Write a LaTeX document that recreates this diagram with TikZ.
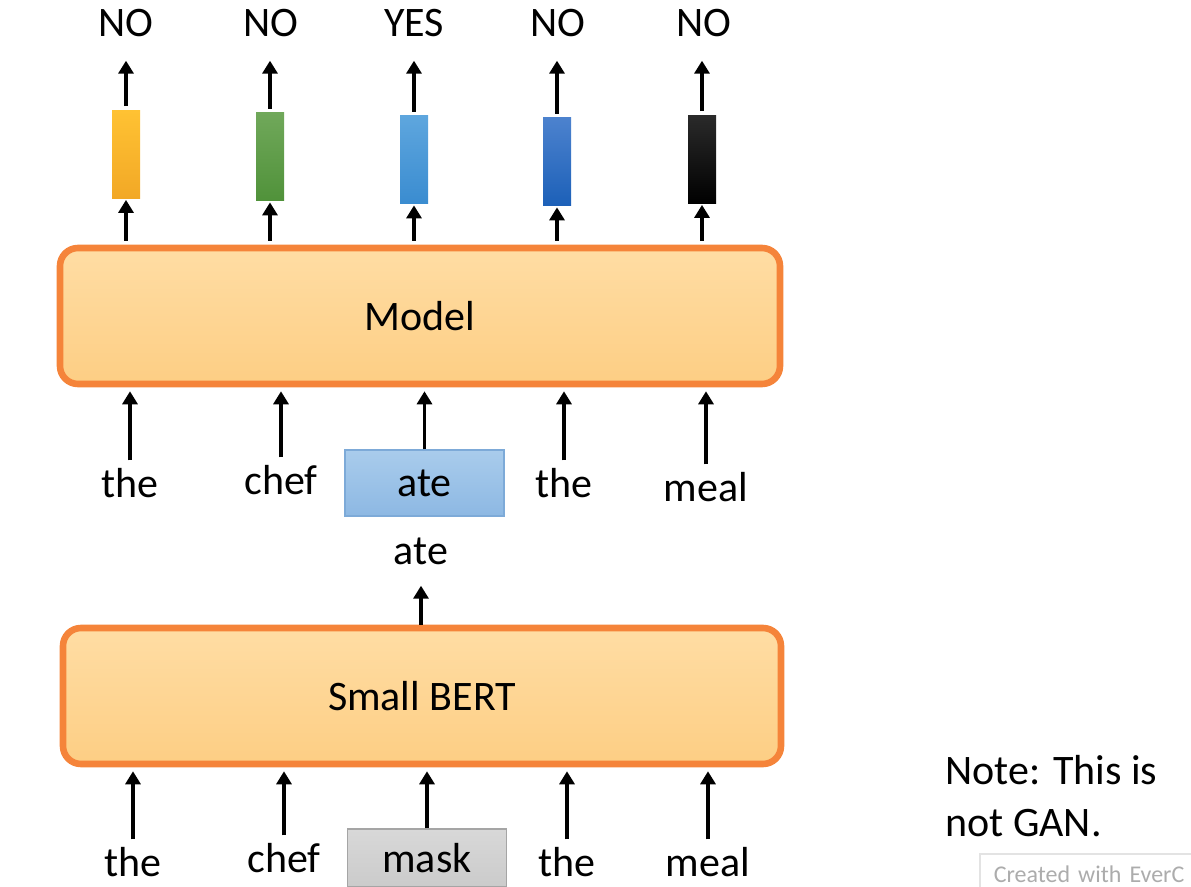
\documentclass[tikz,border=0pt]{standalone}
\usepackage{fontspec}
\setmainfont{Carlito}
\usetikzlibrary{arrows.meta}

\definecolor{boxline}{HTML}{F5843A}
\definecolor{boxtop}{HTML}{FFDDA4}
\definecolor{boxbottom}{HTML}{FDCE84}
\definecolor{atetop}{HTML}{A9CCEC}
\definecolor{atebottom}{HTML}{8DB8E3}
\definecolor{ateline}{HTML}{7DAAD8}
\definecolor{masktop}{HTML}{D8D8D8}
\definecolor{maskbottom}{HTML}{CBCBCB}
\definecolor{maskline}{HTML}{A5A5A5}
\definecolor{yellowtop}{HTML}{FFC233}
\definecolor{yellowbottom}{HTML}{F2A826}
\definecolor{greentop}{HTML}{70A85A}
\definecolor{greenbottom}{HTML}{50923A}
\definecolor{lbluetop}{HTML}{5EA6DE}
\definecolor{lbluebottom}{HTML}{3A8CD0}
\definecolor{bluetop}{HTML}{4C82CE}
\definecolor{bluebottom}{HTML}{1C60B8}
\definecolor{blacktop}{HTML}{2A2A2A}
\definecolor{blackbottom}{HTML}{000000}

\begin{document}
\begin{tikzpicture}
[x=0.5pt,y=-0.5pt,
  worddecorate/.style={anchor=base,inner sep=2pt,font=\fontsize{21}{25}\selectfont},%
  boxdecorate/.style={draw=boxline,line width=3.3pt,rounded corners=9pt,
    top color=boxtop,bottom color=boxbottom,minimum height=68pt,
    font=\fontsize{21}{25}\selectfont},%
  bardecorate/.style={inner sep=0pt,minimum width=14pt,minimum height=44pt},%
  tokendecorate/.style={inner sep=0pt,line width=0.6pt,minimum width=79.5pt,
    font=\fontsize{21}{25}\selectfont},%
  arrowdecorate/.style={-{Triangle[width=7.5pt,length=6.5pt]},line width=1.8pt}]
\useasboundingbox (0,0) rectangle (1191,887);
%% output labels
\foreach \nodename/\x/\word in {1/126/NO, 2/271/NO, 3/414/YES, 4/558/NO, 5/704/NO} {
  \node (o\nodename) at (\x,37) [worddecorate] {\word};
}
%% output vectors
\foreach \nodename/\x/\y/\col in {1/126/154.5/yellow, 2/270/157/green, 3/414/160/lblue,
  4/557/162/blue, 5/702/159.5/black} {
  \node (b\nodename) at (\x,\y) [bardecorate,top color=\col top,bottom color=\col bottom] {};
}
%% the two models
\node (model) at (420,316) [boxdecorate,minimum width=360pt] {Model};
\node (bert) at (422,696) [boxdecorate,minimum width=359pt] {Small BERT};
%% inputs of the model
\foreach \nodename/\x/\y/\word in {1/130/498/the, 2/281/495/chef, 4/564/498/the, 5/706/502/meal} {
  \node (m\nodename) at (\x,\y) [worddecorate] {\word};
}
\node (m3) at (424.5,483) [tokendecorate,minimum height=33pt,draw=ateline,
  top color=atetop,bottom color=atebottom] {ate};
\node (gen) at (421,565) [worddecorate] {ate};
%% inputs of small bert
\foreach \nodename/\x/\y/\word in {1/133/877/the, 2/284/873/chef, 4/567/877/the, 5/708/877/meal} {
  \node (w\nodename) at (\x,\y) [worddecorate] {\word};
}
\node (w3) at (427,858) [tokendecorate,minimum height=29pt,draw=maskline,
  top color=masktop,bottom color=maskbottom] {mask};
%% note
\node (note1) at (945,785) [worddecorate,anchor=base west,inner sep=0pt] {Note: This is};
\node (note2) at (945,837) [worddecorate,anchor=base west,inner sep=0pt] {not GAN.};
\node (cam) at (979,853) [anchor=north west,draw=gray!22,line width=0.8pt,text=gray!65,
  font=\fontsize{12}{14}\selectfont,text width=110pt,inner xsep=7pt,minimum height=20pt,
  align=left] {Created with EverC};
%% arrows
\foreach \n in {1,...,5} {
  \draw[arrowdecorate,shorten <=2pt,shorten >=9.5pt] (b\n.north) -- (b\n.north |- o\n.south);
  \draw[arrowdecorate,shorten <=2pt,shorten >=0.5pt] (model.north -| b\n.south) -- (b\n.south);
}
\foreach \n in {1,2,4,5} {
  \draw[arrowdecorate,shorten <=2pt,shorten >=2pt] (m\n.north) -- (m\n.north |- model.south);
  \draw[arrowdecorate,shorten <=2pt,shorten >=2pt] (w\n.north) -- (w\n.north |- bert.south);
}
\draw[arrowdecorate,shorten >=2pt] (m3.north) -- (m3.north |- model.south);
\draw[arrowdecorate,shorten >=2pt] (w3.north) -- (w3.north |- bert.south);
\draw[arrowdecorate,shorten >=8pt] (bert.north -| gen.south) -- (gen.south);
\end{tikzpicture}
\end{document}
